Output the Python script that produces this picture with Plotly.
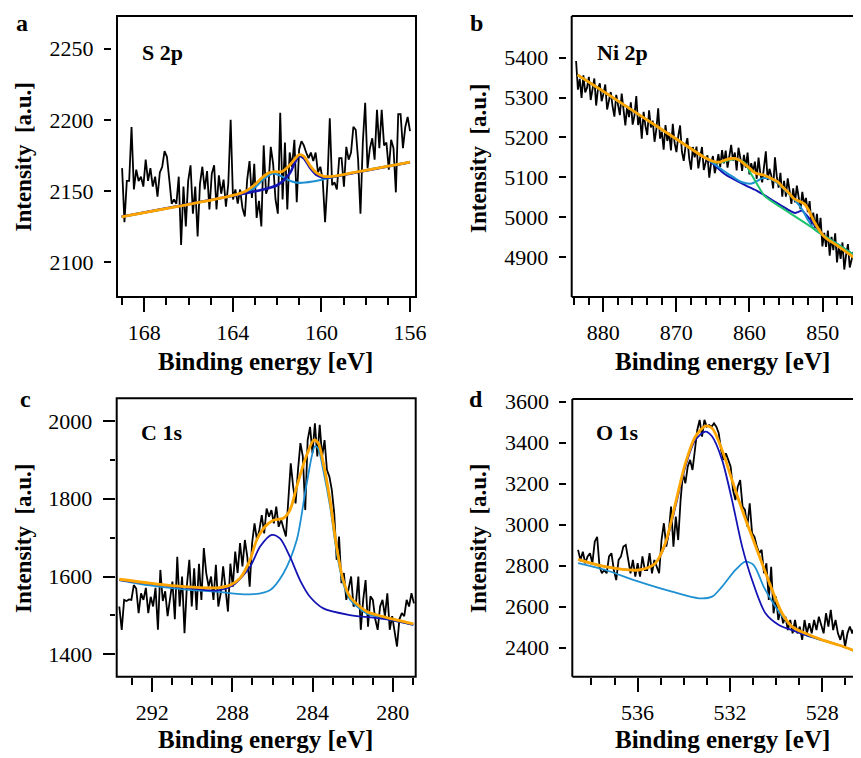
import numpy as np
import plotly.graph_objects as go

W, H = 861, 758
OFF = 8  # the page body has an 8 px margin; design coordinates are window pixels
FONT = "Liberation Serif"

# ---------------- data: panel a (S 2p) ----------------
A_E_START, A_E_END = 169.0, 156.0
A_RAW = [2166, 2128, 2157, 2157, 2195, 2151, 2165, 2157, 2160, 2153,
         2172, 2157, 2166, 2153, 2160, 2146, 2163, 2167, 2178, 2174,
         2158, 2141, 2144, 2141, 2160, 2112, 2153, 2125, 2157, 2168,
         2134, 2153, 2118, 2155, 2167, 2151, 2164, 2137, 2162, 2168,
         2137, 2161, 2148, 2158, 2139, 2155, 2200, 2144, 2151, 2141,
         2151, 2138, 2132, 2158, 2171, 2145, 2169, 2131, 2143, 2125,
         2182, 2148, 2153, 2181, 2169,
         2144, 2134, 2205, 2144, 2184, 2137, 2177, 2167, 2186, 2142,
         2179, 2185, 2182, 2177, 2173, 2177, 2171, 2177, 2163, 2167,
         2158, 2128, 2156, 2201, 2154, 2156, 2151, 2173, 2173, 2153,
         2181, 2172, 2177, 2195, 2193, 2172, 2134, 2184, 2212, 2166,
         2180, 2187, 2172, 2207, 2180, 2207, 2182, 2184, 2165, 2186,
         2180, 2149, 2204, 2204, 2180, 2195, 2202, 2192]
A_FIT_E = [169.02, 164.0, 163.4, 163.0, 162.7, 162.4, 162.1, 161.8, 161.5, 161.2,
           161.0, 160.8, 160.5, 160.2, 159.9, 159.5, 158.5, 156.0]
A_FIT_I = [2131.8, 2146.8, 2150.0, 2154.5, 2159.0, 2162.5, 2163.5, 2163.5, 2167.0, 2172.5,
           2175.5, 2174.5, 2167.5, 2162.5, 2160.3, 2160.2, 2163.0, 2170.2]
A_DB_E = [169.02, 164.0, 163.0, 162.5, 162.0, 161.7, 161.4, 161.2, 161.0, 160.8,
          160.5, 160.2, 159.9, 159.5, 158.5, 156.0]
A_DB_I = [2131.8, 2146.6, 2149.7, 2151.5, 2154.0, 2157.5, 2163.0, 2170.0, 2174.5, 2173.0,
          2166.0, 2161.0, 2159.5, 2159.8, 2162.8, 2170.2]
A_LB_E = [169.02, 164.0, 163.4, 163.0, 162.6, 162.2, 161.9, 161.4, 161.0, 160.4,
          159.6, 158.5, 156.0]
A_LB_I = [2131.8, 2146.6, 2148.8, 2152.5, 2158.5, 2162.3, 2161.0, 2157.0, 2155.6, 2156.6,
          2159.3, 2163.0, 2170.2]
A_XTICKS = [168, 164, 160, 156]
A_YTICKS = [2100, 2150, 2200, 2250]

# ---------------- data: panel b (Ni 2p) ----------------
B_E_START, B_E_END = 883.7, 844.8
B_RAW = [5392, 5320, 5347, 5299, 5356, 5313, 5325, 5352, 5294, 5321,
         5348, 5280, 5322, 5336, 5291, 5310, 5333, 5270, 5289, 5314,
         5278, 5252, 5307, 5279, 5256, 5310, 5275, 5230, 5279, 5251,
         5288, 5232, 5255, 5304, 5231, 5253, 5197, 5264, 5229, 5206,
         5268, 5225, 5242, 5189, 5221, 5273, 5197, 5214, 5169, 5231,
         5191, 5212, 5167, 5234, 5186, 5163, 5203, 5230, 5164, 5141,
         5178, 5198, 5147, 5119, 5176, 5150, 5177, 5122, 5149, 5176,
         5118, 5135, 5155, 5099, 5136, 5153, 5110, 5131, 5158, 5126,
         5168, 5135, 5167, 5124, 5155, 5181, 5142, 5162, 5117, 5174,
         5149, 5116, 5156, 5124, 5162, 5107, 5135, 5113, 5139, 5096,
         5149, 5108, 5087, 5136, 5165, 5093, 5121, 5104, 5072, 5150,
         5102, 5074, 5111, 5051, 5091, 5051, 5097, 5067, 5033, 5072,
         5037, 5079, 5052, 5020, 5063, 5031, 5048, 5012, 5040, 4980,
         5011, 4972, 5008, 4960, 4998, 4926, 4960, 4925, 4966, 4903,
         4950, 4917, 4959, 4886, 4928, 4895, 4936, 4868, 4905, 4932,
         4873, 4890, 4912, 4854, 4875, 4897, 4849]
B_FIT_E = [883.5, 880, 875, 870, 866, 865, 864.5, 864, 863.5, 863, 862.5, 862, 861.5,
           861, 860.5, 860, 859.5, 859, 858.5, 858, 857.5, 857, 856.5, 856, 855.5,
           855, 854.5, 854, 853.5, 853, 852.5, 852, 851.5, 851, 850.5, 850, 849.5,
           849, 848, 847, 846, 845, 844.7]
B_FIT_I = [5357, 5316, 5256, 5196, 5148, 5140, 5138, 5138, 5142, 5145, 5147, 5147, 5144,
           5138, 5130, 5123, 5114, 5109, 5107, 5105, 5101, 5097, 5092, 5086, 5076,
           5067, 5058, 5047, 5042, 5038, 5033, 5020, 5001, 4983, 4968, 4955, 4946,
           4940, 4928, 4915, 4902, 4889, 4885]
B_GREEN_E = [883.5, 870, 866, 865, 864, 863, 862, 861.5, 861, 860.6, 860, 859.3,
             858.5, 857.9, 857, 856, 854, 852, 850, 848, 844.7]
B_GREEN_I = [5357, 5196, 5148, 5139, 5137, 5142, 5146, 5144, 5140, 5135, 5115, 5093,
             5068, 5052, 5040, 5028, 5004, 4980, 4955, 4932, 4892]
B_LB_E = [883.5, 870, 865, 863.4, 862.2, 861.1, 859.7, 858.8, 858.3, 857.4, 856.1,
          854.7, 853.8, 852.9, 852.0, 851.0, 850, 848, 844.7]
B_LB_I = [5357, 5196, 5136, 5114, 5100, 5088, 5084, 5092, 5097, 5097, 5084,
          5059, 5042, 5022, 4992, 4967, 4955, 4932, 4892]
B_DB_E = [883.5, 870, 865, 863.4, 860.6, 858.8, 856.5, 854.7, 853.8, 853.3, 852.9,
          852.5, 852.0, 850.6, 850, 848, 844.7]
B_DB_I = [5357, 5196, 5134, 5108, 5080, 5064, 5038, 5018, 5010, 5013, 5016,
          5011, 5000, 4968, 4955, 4932, 4892]
B_XTICKS = [880, 870, 860, 850]
B_YTICKS = [4900, 5000, 5100, 5200, 5300, 5400]

# ---------------- data: panel c (C 1s) ----------------
C_E_START, C_E_END = 293.65, 278.94
C_RAW = [1523, 1463, 1540, 1537, 1541, 1540, 1578, 1569, 1506, 1557,
         1540, 1571, 1506, 1548, 1523, 1571, 1463, 1617, 1537, 1562,
         1498, 1549, 1587, 1490, 1651, 1523, 1600, 1454, 1578, 1643,
         1523, 1621, 1514, 1633, 1540, 1673, 1609, 1574, 1600, 1540,
         1630, 1523, 1557, 1626, 1574, 1510, 1633, 1574, 1664, 1609,
         1686, 1626, 1694, 1651, 1574, 1686, 1737, 1694, 1720, 1758,
         1711, 1775, 1754, 1771, 1737, 1780, 1728, 1746, 1724, 1703,
         1797, 1891, 1831, 1788, 1874, 1943, 1909, 1771, 1951, 1985,
         1917, 1994, 1909, 1990, 1909, 1951, 1874, 1857, 1823, 1763,
         1643, 1703, 1583, 1609, 1540, 1574, 1600, 1523, 1531, 1600,
         1463, 1540, 1591, 1471, 1549, 1540, 1490, 1463, 1523, 1540,
         1498, 1557, 1463, 1498, 1454, 1420, 1490, 1506, 1498, 1540,
         1523, 1557, 1531]
C_FIT_E = [293.65, 292.12, 290.45, 288.79, 288.12, 287.62, 287.12, 286.79, 286.38, 285.96,
           285.46, 285.13, 284.79, 284.38, 283.93, 283.71, 283.46, 283.13, 282.8, 282.47,
           282.13, 281.3, 280.47, 278.97]
C_FIT_I = [1593, 1583, 1574, 1571, 1578, 1596, 1643, 1694, 1728, 1745,
           1750, 1771, 1831, 1900, 1951, 1943, 1891, 1797, 1677, 1591,
           1548, 1510, 1497, 1478]
C_LB_E = [293.65, 292.12, 290.45, 288.79, 287.12, 286.13, 285.46, 284.79, 284.29, 283.88,
          283.71, 283.46, 283.13, 282.8, 282.47, 282.13, 281.3, 280.47, 278.97]
C_LB_I = [1591, 1577, 1567, 1561, 1554, 1565, 1608, 1694, 1840, 1935,
          1928, 1872, 1782, 1664, 1582, 1541, 1505, 1493, 1476]
C_DB_E = [293.65, 290.45, 288.79, 287.96, 287.12, 286.62, 286.04, 285.63, 285.13, 284.63,
          284.13, 283.46, 282.13, 280.47, 278.97]
C_DB_I = [1591, 1572, 1564, 1578, 1625, 1677, 1707, 1698, 1651, 1591,
          1548, 1518, 1501, 1491, 1476]
C_XTICKS = [292, 288, 284, 280]
C_YTICKS = [1400, 1600, 1800, 2000]

# ---------------- data: panel d (O 1s) ----------------
D_E_START, D_E_END = 538.58, 526.39
D_RAW = [2877, 2828, 2868, 2812, 2845, 2861, 2812, 2917, 2941, 2795,
         2763, 2779, 2763, 2845, 2861, 2779, 2730, 2828, 2845, 2893,
         2901, 2828, 2763, 2828, 2747, 2812, 2747, 2845, 2779, 2779,
         2861, 2763, 2828, 2795, 2763, 2925, 3007, 2893, 2958, 3088,
         2893, 3039, 2925, 3120, 3251, 3202, 3283, 3316, 3267, 3364,
         3462, 3511, 3430, 3511, 3478, 3486, 3478, 3494, 3478, 3446,
         3364, 3316, 3348, 3316, 3283, 3169, 3120, 3186, 3218, 3088,
         3072, 2990, 3104, 2958, 2941, 2893, 2861, 2877, 2763, 2812,
         2633, 2795, 2568, 2649, 2535, 2584, 2519, 2551, 2486, 2535,
         2470, 2535, 2470, 2503, 2438, 2535, 2470, 2519, 2470, 2535,
         2486, 2551, 2503, 2470, 2568, 2503, 2584, 2486, 2535, 2470,
         2438, 2486, 2405, 2470, 2503, 2470, 2503, 2470, 2519]
D_FIT_E = [538.58, 537.40, 535.95, 535.23, 534.80, 534.36, 533.93, 533.50, 533.06, 532.77,
           532.34, 531.91, 531.47, 531.04, 530.61, 530.17, 529.74, 529.31, 528.73, 528.01,
           527.29, 526.32]
D_FIT_I = [2831, 2795, 2779, 2812, 2909, 3104, 3299, 3429, 3481, 3470,
           3364, 3218, 3072, 2941, 2812, 2681, 2568, 2503, 2470, 2438,
           2413, 2373]
D_LB_E = [538.58, 537.40, 535.95, 534.51, 533.35, 532.77, 532.34, 531.76, 531.33, 530.97,
          530.54, 530.17, 529.74, 529.31, 528.73, 527.29, 526.32]
D_LB_I = [2812, 2779, 2722, 2673, 2641, 2649, 2698, 2779, 2820, 2803,
          2698, 2625, 2555, 2505, 2462, 2413, 2373]
D_DB_E = [538.58, 537.40, 535.95, 535.23, 534.80, 534.36, 533.93, 533.50, 533.06, 532.77,
          532.34, 531.91, 531.47, 531.04, 530.46, 529.88, 529.31, 528.73, 527.29, 526.32]
D_DB_I = [2828, 2795, 2779, 2812, 2901, 3088, 3283, 3413, 3454, 3430,
          3316, 3120, 2893, 2730, 2568, 2511, 2486, 2462, 2413, 2373]
D_XTICKS = [536, 532, 528]
D_YTICKS = [2400, 2600, 2800, 3000, 3200, 3400, 3600]

# ---------------- styling ----------------
BLACK = "#000000"
ORANGE = "#FFA500"
DBLUE = "#1414B4"
LBLUE = "#1E90D2"
GREEN = "#1FC26E"


def px_x(px):
    return (px - OFF) / W


def px_y(py):
    return 1 - (py - OFF) / H


fig = go.Figure()

panels = [
    ("", A_RAW, A_E_START, A_E_END,
     [(A_LB_E, A_LB_I, LBLUE, 2.2), (A_DB_E, A_DB_I, DBLUE, 2.6)], (A_FIT_E, A_FIT_I)),
    ("2", B_RAW, B_E_START, B_E_END,
     [(B_DB_E, B_DB_I, DBLUE, 2.0), (B_LB_E, B_LB_I, LBLUE, 2.0), (B_GREEN_E, B_GREEN_I, GREEN, 2.0)],
     (B_FIT_E, B_FIT_I)),
    ("3", C_RAW, C_E_START, C_E_END,
     [(C_LB_E, C_LB_I, LBLUE, 1.8), (C_DB_E, C_DB_I, DBLUE, 1.8)], (C_FIT_E, C_FIT_I)),
    ("4", D_RAW, D_E_START, D_E_END,
     [(D_LB_E, D_LB_I, LBLUE, 1.8), (D_DB_E, D_DB_I, DBLUE, 1.8)], (D_FIT_E, D_FIT_I)),
]

for key, raw, e0, e1, comps, fit in panels:
    xa, ya = "x" + key, "y" + key
    energy = np.linspace(e0, e1, len(raw))
    fig.add_trace(go.Scatter(x=energy, y=raw, mode="lines", xaxis=xa, yaxis=ya,
                             line=dict(color=BLACK, width=1.8), hoverinfo="skip"))
    for ce, ci, col, w in comps:
        fig.add_trace(go.Scatter(x=ce, y=ci, mode="lines", xaxis=xa, yaxis=ya,
                                 line=dict(color=col, width=w, shape="spline", smoothing=0.8),
                                 hoverinfo="skip"))
    fig.add_trace(go.Scatter(x=fit[0], y=fit[1], mode="lines", xaxis=xa, yaxis=ya,
                             line=dict(color=ORANGE, width=2.8, shape="spline", smoothing=0.8),
                             hoverinfo="skip"))

TICKFONT = dict(family=FONT, size=22, color=BLACK)

# box geometry in window pixels: (left, right, top, bottom)
boxes = {
    "": (117, 416, 16, 297),
    "2": (571.7, 861, 16, 297),
    "3": (116.7, 415.7, 398.3, 676.7),
    "4": (572.3, 861, 399, 676.7),
}
xranges = {"": [169.23, 155.73], "2": [884.3, 844.76], "3": [293.78, 278.85], "4": [538.83, 526.32]}
yranges = {"": [2075.4, 2273], "2": [4799, 5505], "3": [1342.4, 2058.4], "4": [2258.5, 3613]}
xticks = {"": (A_XTICKS, 1), "2": (B_XTICKS, 2), "3": (C_XTICKS, 1), "4": (D_XTICKS, 1)}
yticks = {"": (A_YTICKS, None), "2": (B_YTICKS, None), "3": (C_YTICKS, 100), "4": (D_YTICKS, None)}

layout = {}
for key, (l, r, t, b) in boxes.items():
    xname = "xaxis" + key
    yname = "yaxis" + key
    tv, mdt = xticks[key]
    layout[xname] = dict(
        domain=[px_x(l), min(1.0, px_x(r))], anchor="y" + key, range=xranges[key],
        showgrid=False, zeroline=False, showline=False, automargin=False,
        ticks="outside", ticklen=14, tickwidth=2, tickcolor=BLACK,
        tickmode="array", tickvals=tv, ticktext=[str(v) for v in tv], tickfont=TICKFONT,
        ticklabelstandoff=2,
        minor=dict(ticks="outside", ticklen=7, tickwidth=2, tickcolor=BLACK,
                   dtick=mdt, tick0=tv[0], showgrid=False),
        fixedrange=True,
    )
    ytv, ymdt = yticks[key]
    if ymdt:
        gap, tlen = 2, 12
    else:
        gap, tlen = 6, 7
    ycfg = dict(
        domain=[px_y(b), px_y(t)], anchor="free", position=px_x(l - gap), range=yranges[key],
        showgrid=False, zeroline=False, showline=False, automargin=False,
        ticks="outside", ticklen=tlen, tickwidth=2, tickcolor=BLACK,
        tickmode="array", tickvals=ytv, ticktext=[str(v) for v in ytv], tickfont=TICKFONT,
        ticklabelstandoff=6, fixedrange=True,
    )
    if ymdt:
        ycfg["minor"] = dict(ticks="outside", ticklen=5, tickwidth=2, tickcolor=BLACK,
                             dtick=ymdt, tick0=ytv[0], showgrid=False)
    layout[yname] = ycfg

shapes = []
for key, (l, r, t, b) in boxes.items():
    xr, yr = "x" + key + " domain", "y" + key + " domain"
    ln = dict(color=BLACK, width=2)
    if r < 860:
        shapes.append(dict(type="rect", xref=xr, yref=yr, x0=0, x1=1, y0=0, y1=1,
                           line=ln, layer="above"))
    else:
        shapes.append(dict(type="line", xref=xr, yref=yr, x0=0, x1=0, y0=0, y1=1, line=ln, layer="above"))
        shapes.append(dict(type="line", xref=xr, yref=yr, x0=0, x1=1.05, y0=1, y1=1, line=ln, layer="above"))
        shapes.append(dict(type="line", xref=xr, yref=yr, x0=0, x1=1.05, y0=0, y1=0, line=ln, layer="above"))


def ann(text, px, py, size, xanchor="center", angle=0):
    return dict(text="<b>" + text + "</b>", x=px_x(px), y=px_y(py), xref="paper", yref="paper",
                showarrow=False, xanchor=xanchor, yanchor="middle", textangle=angle,
                borderpad=0, font=dict(family=FONT, size=size, color=BLACK))


annotations = [
    ann("a", 22, 22.5, 24), ann("b", 476, 22.5, 24), ann("c", 25, 399, 24), ann("d", 476, 399, 24),
    ann("S 2p", 141, 52, 22, "left"), ann("Ni 2p", 596, 52, 22, "left"),
    ann("C 1s", 140, 432, 22, "left"), ann("O 1s", 595, 432, 22, "left"),
    ann("Intensity\u00a0 [a.u.]", 23, 156.5, 23, angle=-90),
    ann("Intensity\u00a0 [a.u.]", 478, 158, 23, angle=-90),
    ann("Intensity\u00a0 [a.u.]", 23, 538, 23, angle=-90),
    ann("Intensity\u00a0 [a.u.]", 478, 538, 23, angle=-90),
    ann("Binding energy [eV]", 265, 361, 25), ann("Binding energy [eV]", 722, 361, 25),
    ann("Binding energy [eV]", 265, 739, 25), ann("Binding energy [eV]", 722, 739, 25),
]

fig.update_layout(
    template="none",
    width=W, height=H, margin=dict(l=0, r=0, t=0, b=0, pad=0),
    paper_bgcolor="white", plot_bgcolor="white", showlegend=False,
    font=dict(family=FONT, color=BLACK), shapes=shapes, annotations=annotations,
    **layout,
)

fig.write_html("out.html")
